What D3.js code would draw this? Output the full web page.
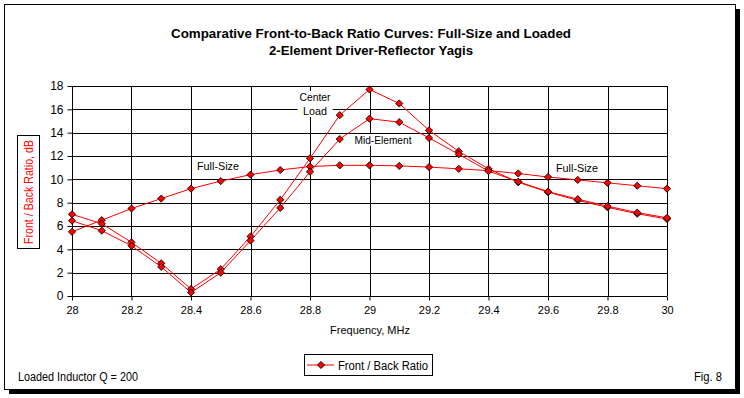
<!DOCTYPE html>
<html>
<head>
<meta charset="utf-8">
<script src="https://cdn.jsdelivr.net/npm/d3@7"></script>
<style>
  body { margin: 0; background: #fff; }
  svg text { font-family: "Liberation Sans", Arial, sans-serif; }
</style>
</head>
<body>
<script>
// frequencies, MHz
var freqs = [28.0, 28.1, 28.2, 28.3, 28.4, 28.5, 28.6, 28.7, 28.8, 28.9, 29.0,
             29.1, 29.2, 29.3, 29.4, 29.5, 29.6, 29.7, 29.8, 29.9, 30.0];

// front/back ratio, dB
var fullSize   = [5.5, 6.5, 7.5, 8.35, 9.2, 9.85, 10.4, 10.8, 11.1, 11.2, 11.2,
                  11.15, 11.05, 10.9, 10.75, 10.5, 10.2, 9.95, 9.7, 9.45, 9.2];
var centerLoad = [7.0, 6.2, 4.6, 2.8, 0.6, 2.3, 5.1, 8.25, 11.8, 15.5, 17.7,
                  16.5, 14.2, 12.4, 10.9, 9.75, 8.9, 8.2, 7.6, 7.05, 6.6];
var midElement = [6.45, 5.6, 4.3, 2.5, 0.3, 2.0, 4.75, 7.55, 10.65, 13.45, 15.2,
                  14.9, 13.55, 12.15, 10.7, 9.8, 8.95, 8.3, 7.7, 7.15, 6.7];

var xTicks = [28, 28.2, 28.4, 28.6, 28.8, 29, 29.2, 29.4, 29.6, 29.8, 30];
var yTicks = [0, 2, 4, 6, 8, 10, 12, 14, 16, 18];

var W = 744, H = 398;
var pLeft = 72, pRight = 667, pTop = 86, pBottom = 296;

var svg = d3.select("body").append("svg")
    .attr("width", W)
    .attr("height", H);

// frame with shadow
svg.append("rect").attr("x", 9).attr("y", 9).attr("width", 731).attr("height", 385).attr("fill", "#000");
svg.append("rect").attr("x", 4.5).attr("y", 4.5).attr("width", 731).attr("height", 385)
    .attr("fill", "#fff").attr("stroke", "#000");

var x = d3.scaleLinear().domain([28, 30]).range([pLeft, pRight]);
var y = d3.scaleLinear().domain([0, 18]).range([pBottom, pTop]);

// title (condensed bold)
var title = svg.append("text")
    .attr("text-anchor", "middle")
    .style("font-weight", "bold").style("font-size", "13px");
title.append("tspan").attr("x", 371).attr("y", 38)
    .attr("textLength", 400).attr("lengthAdjust", "spacingAndGlyphs")
    .text("Comparative Front-to-Back Ratio Curves:  Full-Size and Loaded");
title.append("tspan").attr("x", 371).attr("y", 55)
    .attr("textLength", 204).attr("lengthAdjust", "spacingAndGlyphs")
    .text("2-Element Driver-Reflector Yagis");

// gridlines
svg.append("g").selectAll("line")
    .data(yTicks.filter(function(d) { return d > 0; }))
    .enter().append("line")
    .attr("x1", pLeft).attr("x2", pRight)
    .attr("y1", function(d) { return Math.round(y(d)) + 0.5; })
    .attr("y2", function(d) { return Math.round(y(d)) + 0.5; })
    .attr("stroke", "#000");

svg.append("g").selectAll("line")
    .data(xTicks.filter(function(d) { return d > 28; }))
    .enter().append("line")
    .attr("y1", pTop).attr("y2", pBottom)
    .attr("x1", function(d) { return Math.round(x(d)) + 0.5; })
    .attr("x2", function(d) { return Math.round(x(d)) + 0.5; })
    .attr("stroke", "#000");

// axes
var xAxis = d3.axisBottom(x).tickValues(xTicks).tickSize(4).tickPadding(6)
    .tickFormat(function(d) { return String(+d.toFixed(1)); });
var gx = svg.append("g").attr("transform", "translate(0," + (pBottom + 0.5) + ")").call(xAxis);
gx.select(".domain").attr("d", "M" + pLeft + ",0H" + pRight);
gx.selectAll(".tick text").style("font-size", "11px");

var yAxis = d3.axisLeft(y).tickValues(yTicks).tickSize(5).tickPadding(4);
var gy = svg.append("g").attr("transform", "translate(" + (pLeft + 0.5) + ",0)").call(yAxis);
gy.select(".domain").attr("d", "M0," + pTop + "V" + pBottom);
gy.selectAll(".tick text").style("font-size", "12px");

svg.selectAll(".tick text").attr("fill", "#000")
    .style("font-family", "'Liberation Sans', Arial, sans-serif");
svg.selectAll(".tick line, .domain").attr("stroke", "#000");

// axis titles
svg.append("text").attr("x", 370).attr("y", 334).attr("text-anchor", "middle")
    .style("font-size", "11px").text("Frequency, MHz");

svg.append("rect").attr("x", 17.5).attr("y", 135.5).attr("width", 22).attr("height", 113)
    .attr("fill", "#fff").attr("stroke", "#000");
svg.append("text")
    .attr("transform", "translate(33,192) rotate(-90)")
    .attr("text-anchor", "middle")
    .attr("fill", "#ff0000")
    .style("font-size", "12px")
    .attr("textLength", 104).attr("lengthAdjust", "spacingAndGlyphs")
    .text("Front / Back Ratio, dB");

// series
var line = d3.line()
    .x(function(d, i) { return x(freqs[i]); })
    .y(function(d) { return y(d); });

var series = [fullSize, centerLoad, midElement];
var diamond = d3.symbol().type(d3.symbolSquare).size(26);

series.forEach(function(s) {
    svg.append("path").datum(s)
        .attr("d", line)
        .attr("fill", "none")
        .attr("stroke", "#ff0000")
        .attr("stroke-width", 1);
});

series.forEach(function(s) {
    svg.append("g").selectAll("path")
        .data(s).enter().append("path")
        .attr("d", diamond)
        .attr("transform", function(d, i) { return "translate(" + x(freqs[i]) + "," + y(d) + ") rotate(45)"; })
        .attr("fill", "#ff0000")
        .attr("stroke", "#000")
        .attr("stroke-width", 0.8);
});

// curve labels, white box behind like the chart's text boxes
function label(lines, widths, cx, cy) {
    var lh = 14;
    var g = svg.append("g");
    var t = g.append("text").attr("text-anchor", "middle").style("font-size", "11.5px");
    lines.forEach(function(l, i) {
        t.append("tspan").attr("x", cx).attr("y", cy + 4 + (i - (lines.length - 1) / 2) * lh)
            .attr("textLength", widths[i]).attr("lengthAdjust", "spacingAndGlyphs")
            .text(l);
    });
    var bb = t.node().getBBox();
    g.insert("rect", "text")
        .attr("x", bb.x - 2).attr("y", bb.y)
        .attr("width", bb.width + 4).attr("height", bb.height)
        .attr("fill", "#fff");
}
label(["Full-Size"], [42], 218, 166);
label(["Center", "Load"], [31, 24], 315, 104);
label(["Mid-Element"], [57], 383, 140);
label(["Full-Size"], [42], 577, 168);

// legend
svg.append("rect").attr("x", 304.5).attr("y", 354.5).attr("width", 128).attr("height", 21)
    .attr("fill", "#fff").attr("stroke", "#000");
svg.append("line").attr("x1", 307).attr("x2", 334).attr("y1", 365).attr("y2", 365)
    .attr("stroke", "#ff0000");
svg.append("path").attr("d", diamond)
    .attr("transform", "translate(321,365) rotate(45)")
    .attr("fill", "#ff0000").attr("stroke", "#000").attr("stroke-width", 0.8);
svg.append("text").attr("x", 338).attr("y", 369.5).style("font-size", "12px")
    .attr("textLength", 90).attr("lengthAdjust", "spacingAndGlyphs")
    .text("Front / Back Ratio");

// notes
svg.append("text").attr("x", 18).attr("y", 381).style("font-size", "12px")
    .attr("textLength", 120).attr("lengthAdjust", "spacingAndGlyphs")
    .text("Loaded Inductor Q = 200");
svg.append("text").attr("x", 694).attr("y", 381).style("font-size", "12px")
    .attr("textLength", 28).attr("lengthAdjust", "spacingAndGlyphs")
    .text("Fig. 8");
</script>
</body>
</html>
